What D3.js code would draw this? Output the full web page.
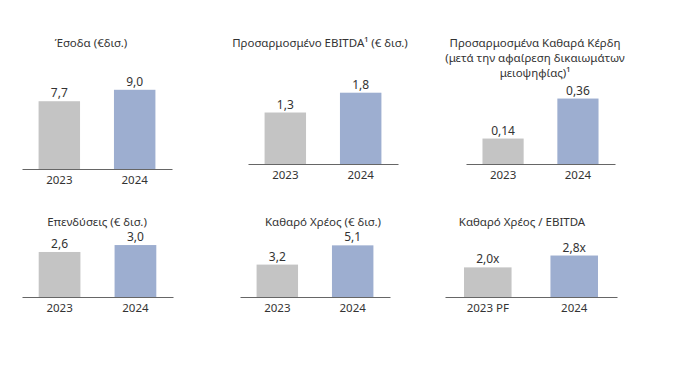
<!DOCTYPE html>
<html>
<head>
<meta charset="utf-8">
<script src="https://cdn.jsdelivr.net/npm/d3@7"></script>
<style>
  html, body { margin: 0; padding: 0; background: #fff; }
  svg { display: block; font-family: "Noto Sans", "Open Sans", sans-serif; }
</style>
</head>
<body>
<div id="chart"></div>
<script>
/* ── data ─────────────────────────────────────────────── */
const titles = [
  ['Έσοδα (€δισ.)'],
  ['Προσαρμοσμένο EBITDA¹ (€ δισ.)'],
  ['Προσαρμοσμένα Καθαρά Κέρδη', '(μετά την αφαίρεση δικαιωμάτων', 'μειοψηφίας)¹'],
  ['Επενδύσεις (€ δισ.)'],
  ['Καθαρό Χρέος (€ δισ.)'],
  ['Καθαρό Χρέος / EBITDA'],
];
const categories = [
  ['2023', '2024'],
  ['2023', '2024'],
  ['2023', '2024'],
  ['2023', '2024'],
  ['2023', '2024'],
  ['2023 PF', '2024'],
];
const values = [
  [7.7, 9.0],
  [1.3, 1.8],
  [0.14, 0.36],
  [2.6, 3.0],
  [3.2, 5.1],
  [2.0, 2.8],
];
const decimals = [1, 1, 2, 1, 1, 1];
const suffixes = ['', '', '', '', '', 'x'];

/* ── layout ───────────────────────────────────────────── */
const W = 700, H = 376;
const PLOT_H = 80;
const panels = [
  { x0: 22,  x1: 172, base: 169, tx: 91,  ty: 43,  yMax: 9.09 },
  { x0: 248, x1: 398, base: 164, tx: 320, ty: 43,  yMax: 2.02 },
  { x0: 466, x1: 615, base: 164, tx: 535, ty: 43,  yMax: 0.44 },
  { x0: 22,  x1: 173, base: 297, tx: 97,  ty: 222, yMax: 4.62 },
  { x0: 240, x1: 390, base: 297, tx: 323, ty: 222, yMax: 7.9 },
  { x0: 445, x1: 617, base: 297, tx: 522, ty: 222, yMax: 5.4 },
];
const colors = ['#c4c4c4', '#9daed0'];
const TEXT = '#333';

const locale = d3.formatLocale({ decimal: ',', thousands: '.', grouping: [3], currency: ['€', ''] });

const svg = d3.select('#chart').append('svg')
  .attr('width', W).attr('height', H);

panels.forEach((p, i) => {
  const g = svg.append('g');
  const x = d3.scaleBand().domain(categories[i])
    .range([p.x0, p.x1]).paddingInner(0.45).paddingOuter(0.22);
  const y = d3.scaleLinear().domain([0, p.yMax])
    .range([p.base, p.base - PLOT_H]);
  const fmt = locale.format(`.${decimals[i]}f`);
  const rows = categories[i].map((c, j) => ({ c, v: values[i][j], j }));

  // title
  g.append('text')
    .attr('x', p.tx).attr('y', p.ty)
    .attr('text-anchor', 'middle')
    .attr('font-size', 11.5).attr('fill', TEXT)
    .selectAll('tspan').data(titles[i]).join('tspan')
    .attr('x', p.tx)
    .attr('dy', (_, k) => k === 0 ? '0.35em' : 15)
    .text(d => d);

  // bars
  g.selectAll('rect').data(rows).join('rect')
    .attr('x', d => x(d.c))
    .attr('y', d => y(d.v))
    .attr('width', x.bandwidth())
    .attr('height', d => y(0) - y(d.v))
    .attr('fill', d => colors[d.j]);

  // value labels
  g.selectAll('.val').data(rows).join('text')
    .attr('class', 'val')
    .attr('x', d => x(d.c) + x.bandwidth() / 2)
    .attr('y', d => y(d.v) - 4)
    .attr('text-anchor', 'middle')
    .attr('font-size', 12).attr('fill', TEXT)
    .text(d => fmt(d.v) + suffixes[i]);

  // baseline axis
  const axis = g.append('g')
    .attr('transform', `translate(0,${p.base})`)
    .call(d3.axisBottom(x).tickSize(0).tickPadding(7).tickSizeOuter(0));
  axis.select('.domain').attr('stroke', '#666').attr('stroke-width', 1.2);
  axis.selectAll('.tick text')
    .attr('font-family', '"Noto Sans", "Open Sans", sans-serif')
    .attr('font-size', 11.5).attr('fill', TEXT);
});
</script>
</body>
</html>
